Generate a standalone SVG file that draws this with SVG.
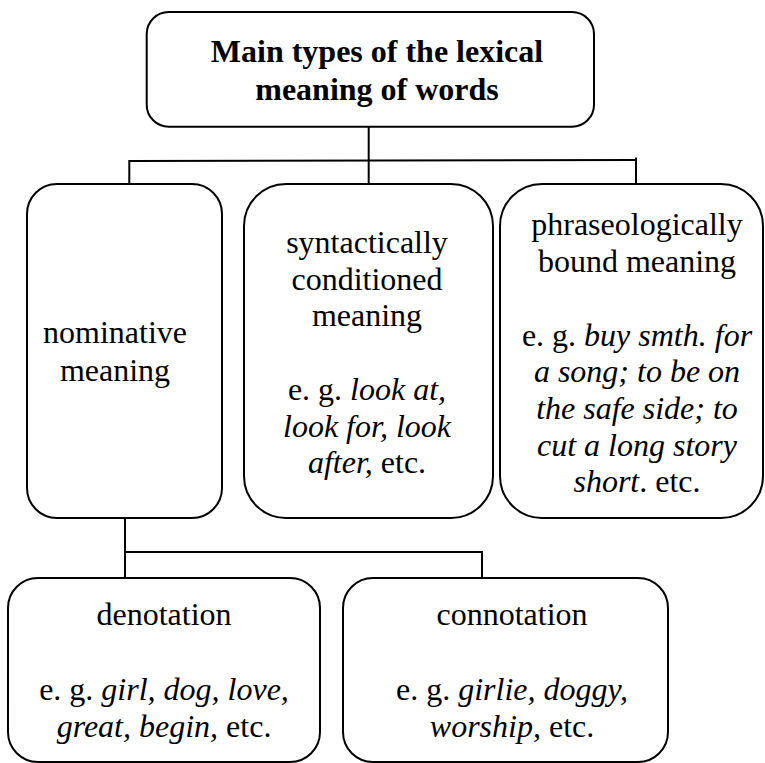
<svg xmlns="http://www.w3.org/2000/svg" width="765" height="763" viewBox="0 0 765 763">
  <style>
    .box { fill: #ffffff; stroke: #000000; stroke-width: 2; }
    .link { fill: none; stroke: #000000; stroke-width: 2; }
    .t { font-family: "Liberation Serif", "Times New Roman", serif; font-size: 32px; fill: #000000; text-anchor: middle; }
    .b { font-weight: bold; }
    .i { font-style: italic; }
  </style>
  <rect width="765" height="763" fill="#ffffff"/>

  <!-- connectors -->
  <g id="connectors">
    <line class="link" x1="368.7" y1="127" x2="368.7" y2="184"/>
    <polyline class="link" points="129.3,184 129.3,161 636,160"/>
    <line class="link" x1="636" y1="157.5" x2="636" y2="184"/>
    <polyline class="link" points="125,518 125,552 482,552 482,578"/>
    <line class="link" x1="125" y1="552" x2="125" y2="578"/>
  </g>

  <!-- root -->
  <g id="root">
    <rect class="box" x="146.7" y="12" width="447.3" height="114.7" rx="22" ry="22"/>
    <text class="t b" x="377" y="61.5">Main types of the lexical</text>
    <text class="t b" x="377" y="99.5">meaning of words</text>
  </g>

  <!-- nominative meaning -->
  <g id="nominative">
    <rect class="box" x="27" y="184" width="195" height="334" rx="30" ry="30"/>
    <text class="t" x="115" y="343">nominative</text>
    <text class="t" x="115" y="380.5">meaning</text>
  </g>

  <!-- syntactically conditioned meaning -->
  <g id="syntactic">
    <rect class="box" x="244" y="184" width="249" height="334" rx="42" ry="42"/>
    <text class="t" x="367" y="253">syntactically</text>
    <text class="t" x="367" y="289.7">conditioned</text>
    <text class="t" x="367" y="326.3">meaning</text>
    <text class="t" x="367" y="400">e. g. <tspan class="i">look at,</tspan></text>
    <text class="t i" x="367" y="436.7">look for, look</text>
    <text class="t" x="367" y="473.3"><tspan class="i">after,</tspan> etc.</text>
  </g>

  <!-- phraseologically bound meaning -->
  <g id="phraseological">
    <rect class="box" x="500" y="184" width="263" height="334" rx="42" ry="42"/>
    <text class="t" x="637" y="235">phraseologically</text>
    <text class="t" x="637" y="271.7">bound meaning</text>
    <text class="t" x="637" y="345.5">e. g. <tspan class="i">buy smth. for</tspan></text>
    <text class="t i" x="637" y="382.2">a song; to be on</text>
    <text class="t i" x="637" y="418.9">the safe side; to</text>
    <text class="t i" x="637" y="455.6">cut a long story</text>
    <text class="t" x="637" y="492.3"><tspan class="i">short</tspan>. etc.</text>
  </g>

  <!-- denotation -->
  <g id="denotation">
    <rect class="box" x="8" y="578" width="312" height="184" rx="30" ry="30"/>
    <text class="t" x="164" y="625">denotation</text>
    <text class="t" x="164" y="700">e. g. <tspan class="i">girl, dog, love,</tspan></text>
    <text class="t" x="164" y="736.7"><tspan class="i">great, begin,</tspan> etc.</text>
  </g>

  <!-- connotation -->
  <g id="connotation">
    <rect class="box" x="343" y="578" width="325" height="184" rx="30" ry="30"/>
    <text class="t" x="512" y="625">connotation</text>
    <text class="t" x="512" y="700">e. g. <tspan class="i">girlie, doggy,</tspan></text>
    <text class="t" x="512" y="736.7"><tspan class="i">worship,</tspan> etc.</text>
  </g>
</svg>
